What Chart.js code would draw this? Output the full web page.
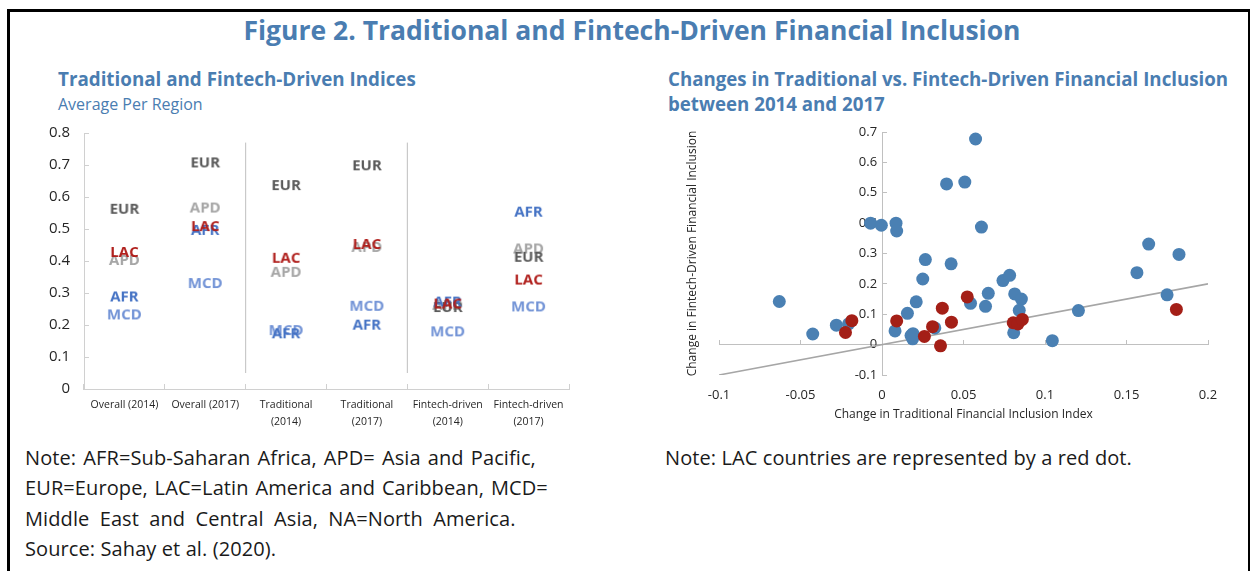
<!DOCTYPE html>
<html>
<head>
<meta charset="utf-8">
<script src="https://cdn.jsdelivr.net/npm/chart.js@4.4.0/dist/chart.umd.min.js"></script>
<style>
    body { margin: 0; background: #fff; font-family: 'Open Sans', sans-serif; }
    #page { position: relative; width: 1251px; height: 571px; overflow: hidden; background: #fff; }
    #frame { position: absolute; left: 7px; top: 9px; width: 1238px; height: 620px;
             border-left: 3px solid #000; border-top: 3px solid #000; border-right: 2px solid #000; }
    .blue { color: #4a7db1; }
    #mainTitle { position: absolute; left: 16px; width: 1232px; top: 13px; text-align: center;
                 font-size: 26.5px; line-height: 34px; font-weight: bold; }
    #leftTitle { position: absolute; left: 58px; top: 66px; font-size: 18.8px; line-height: 26px; font-weight: bold; }
    #leftSub { position: absolute; left: 58px; top: 92px; font-size: 16px; line-height: 24px; }
    #rightTitle { position: absolute; left: 668px; top: 66px; font-size: 18.7px; line-height: 25px; font-weight: bold; }
    .note { position: absolute; top: 443px; font-size: 20px; line-height: 30.3px; color: #1a1a1a; letter-spacing: 0.1px; }
    .note span { display: block; white-space: nowrap; }
    canvas { position: absolute; }
</style>
</head>
<body>
<div id="page">
    <div id="frame"></div>
    <div id="mainTitle" class="blue">Figure 2. Traditional and Fintech-Driven Financial Inclusion</div>
    <div id="leftTitle" class="blue">Traditional and Fintech-Driven Indices</div>
    <div id="leftSub" class="blue">Average Per Region</div>
    <div id="rightTitle" class="blue">Changes in Traditional vs. Fintech-Driven Financial Inclusion<br>between 2014 and 2017</div>
    <canvas id="indexChart" width="580" height="310" style="left:20px; top:120px;"></canvas>
    <canvas id="changeChart" width="580" height="310" style="left:660px; top:120px;"></canvas>
    <div class="note" style="left:25px;">
        <span style="word-spacing:1.8px;">Note: AFR=Sub-Saharan Africa, APD= Asia and Pacific,</span>
        <span style="word-spacing:1.5px;">EUR=Europe, LAC=Latin America and Caribbean, MCD=</span>
        <span style="word-spacing:5px;">Middle East and Central Asia, NA=North America.</span>
        <span>Source: Sahay et al. (2020).</span>
    </div>
    <div class="note" style="left:665px;">Note: LAC countries are represented by a red dot.</div>
</div>
<script>
// ------------------------------------------------------------------
// Data: left panel (average index per region)
// ------------------------------------------------------------------
const INDEX_CATEGORIES = [
    'Overall (2014)', 'Overall (2017)',
    ['Traditional', '(2014)'], ['Traditional', '(2017)'],
    ['Fintech-driven', '(2014)'], ['Fintech-driven', '(2017)'],
];
const EUR = [0.56, 0.705, 0.634, 0.696, 0.253, 0.41];
const APD = [0.40, 0.564, 0.363, 0.441, 0.26, 0.436];
const LAC = [0.425, 0.506, 0.407, 0.45, 0.264, 0.339];
const AFR = [0.286, 0.494, 0.171, 0.198, 0.27, 0.551];
const MCD = [0.23, 0.328, 0.181, 0.257, 0.177, 0.255];
const INDEX_Y_TICKS = [0, 0.1, 0.2, 0.3, 0.4, 0.5, 0.6, 0.7, 0.8];
const SEPARATOR_X = [2, 4];          // boundaries between the three groups
const SEPARATOR_Y = [0.05, 0.77];

// ------------------------------------------------------------------
// Data: right panel (change 2014 -> 2017, one dot per country)
// ------------------------------------------------------------------
const OTHER_X = [-0.063, -0.0425, -0.028, -0.0205, -0.007, -0.0004, 0.0086, 0.009, 0.008,
    0.0156, 0.021, 0.025, 0.0266, 0.0178, 0.019, 0.0188, 0.0324, 0.0396, 0.0424, 0.0508,
    0.0574, 0.061, 0.0543, 0.0635, 0.0652, 0.0742, 0.0783, 0.0814, 0.0855, 0.0842, 0.0808,
    0.1045, 0.1205, 0.1564, 0.1636, 0.1822, 0.1749];
const OTHER_Y = [0.142, 0.035, 0.064, 0.068, 0.40, 0.393, 0.40, 0.374, 0.045,
    0.103, 0.141, 0.216, 0.28, 0.03, 0.036, 0.019, 0.055, 0.529, 0.266, 0.535,
    0.677, 0.387, 0.136, 0.126, 0.169, 0.211, 0.228, 0.167, 0.15, 0.113, 0.039,
    0.013, 0.112, 0.237, 0.331, 0.297, 0.164];
const LAC_X = [-0.0224, -0.0185, 0.009, 0.026, 0.031, 0.0359, 0.037, 0.0426, 0.0523,
    0.0805, 0.0834, 0.0861, 0.1806];
const LAC_Y = [0.04, 0.079, 0.078, 0.027, 0.059, -0.004, 0.12, 0.074, 0.157,
    0.072, 0.068, 0.083, 0.116];
const FIT_X = [-0.1, 0.2];
const FIT_Y = [-0.1, 0.2];
const CHANGE_X_TICKS = [-0.1, -0.05, 0, 0.05, 0.1, 0.15, 0.2];
const CHANGE_Y_TICKS = [-0.1, 0, 0.1, 0.2, 0.3, 0.4, 0.5, 0.6, 0.7];

// first one is drawn on top
const REGIONS = [
    { name: 'LAC', values: LAC, color: '#b01f1c' },
    { name: 'AFR', values: AFR, color: '#4472c4' },
    { name: 'EUR', values: EUR, color: '#595959' },
    { name: 'MCD', values: MCD, color: '#7293d6' },
    { name: 'APD', values: APD, color: '#a6a6a6' },
];

Chart.defaults.font.family = "'Open Sans', sans-serif";
Chart.defaults.color = '#262626';

function format_tick(v) {
    return String(Number(v.toFixed(3)));
}

// small canvas with the region code, used as the point style
function text_marker(text, color) {
    const font = 'bold 15px "Open Sans"';
    const c = document.createElement('canvas');
    let ctx = c.getContext('2d');
    ctx.font = font;
    const w = Math.ceil(ctx.measureText(text).width) + 2;
    c.width = w;
    c.height = 20;
    ctx = c.getContext('2d');
    ctx.font = font;
    ctx.fillStyle = color;
    ctx.textAlign = 'center';
    ctx.textBaseline = 'middle';
    ctx.fillText(text, w / 2, 10);
    return c;
}

function create_index_chart() {
    const regionSets = REGIONS.map(r => ({
        label: r.name,
        data: r.values,
        showLine: false,
        pointStyle: text_marker(r.name, r.color),
        pointRadius: 3,
        xAxisID: 'x',
        yAxisID: 'y',
    }));
    const separatorSets = SEPARATOR_X.map(x => ({
        label: 'sep',
        data: SEPARATOR_Y.map(y => ({ x, y })),
        borderColor: '#bfbfbf',
        borderWidth: 1,
        pointRadius: 0,
        xAxisID: 'x2',
        yAxisID: 'y',
    }));

    new Chart(document.getElementById('indexChart'), {
        type: 'line',
        data: { labels: INDEX_CATEGORIES, datasets: [...regionSets, ...separatorSets] },
        options: {
            responsive: false,
            animation: false,
            layout: { padding: { left: 0, right: 31, top: 13, bottom: 0 } },
            scales: {
                x: {
                    type: 'category',
                    offset: true,
                    grid: { offset: true, drawOnChartArea: false, tickLength: -5, color: '#d0d0d0' },
                    border: { color: '#d0d0d0' },
                    ticks: { font: { size: 10.5, lineHeight: 1.6 }, color: '#262626', padding: 13, maxRotation: 0, autoSkip: false },
                    afterFit: s => { s.height = 41; },
                },
                x2: { type: 'linear', display: false, min: 0, max: 6 },
                y: {
                    min: 0,
                    max: 0.8,
                    afterBuildTicks: s => { s.ticks = INDEX_Y_TICKS.map(v => ({ value: v })); },
                    ticks: { font: { size: 15 }, color: '#262626', padding: 19, callback: format_tick },
                    grid: { drawOnChartArea: false, tickLength: -5, color: '#d0d0d0' },
                    border: { color: '#d0d0d0' },
                    afterFit: s => { s.width = 64; s.paddingTop = 9; s.paddingBottom = 9; },
                },
            },
            plugins: { legend: { display: false }, tooltip: { enabled: false } },
        },
    });
}

function create_change_chart() {
    const pts = (xs, ys) => xs.map((x, i) => ({ x, y: ys[i] }));

    new Chart(document.getElementById('changeChart'), {
        type: 'scatter',
        data: {
            datasets: [
                { label: 'LAC', data: pts(LAC_X, LAC_Y), backgroundColor: '#a41f17', borderWidth: 0, pointRadius: 6.5, order: 0, xAxisID: 'x', yAxisID: 'y' },
                { label: 'Other', data: pts(OTHER_X, OTHER_Y), backgroundColor: '#4a80b3', borderWidth: 0, pointRadius: 6.5, order: 1, xAxisID: 'x', yAxisID: 'y' },
                { type: 'line', label: 'fit', data: pts(FIT_X, FIT_Y), borderColor: '#a6a6a6', borderWidth: 1.6, pointRadius: 0, order: 2, xAxisID: 'x', yAxisID: 'y' },
            ],
        },
        options: {
            responsive: false,
            animation: false,
            layout: { padding: { left: 0, right: 32, top: 12, bottom: 0 } },
            scales: {
                x: {
                    type: 'linear', position: 'bottom', min: -0.1, max: 0.2,
                    afterBuildTicks: s => { s.ticks = CHANGE_X_TICKS.map(v => ({ value: v })); },
                    ticks: { font: { size: 13 }, color: '#262626', padding: 4, callback: format_tick },
                    grid: { display: false },
                    border: { display: false },
                    title: { display: true, text: 'Change in Traditional Financial Inclusion Index', font: { size: 12 }, color: '#262626', padding: { top: 0, bottom: 8 } },
                    afterFit: s => { s.height = 55; },
                },
                xZero: {
                    type: 'linear', axis: 'x', position: { y: 0 }, min: -0.1, max: 0.2,
                    afterBuildTicks: s => { s.ticks = CHANGE_X_TICKS.map(v => ({ value: v })); },
                    ticks: { display: false },
                    grid: { drawOnChartArea: false, tickLength: -5, color: '#c0c0c0' },
                    border: { color: '#c0c0c0' },
                },
                y: {
                    type: 'linear', axis: 'y', position: { x: -0.003 }, min: -0.1, max: 0.7,
                    afterBuildTicks: s => { s.ticks = CHANGE_Y_TICKS.map(v => ({ value: v })); },
                    ticks: { font: { size: 13 }, color: '#262626', callback: format_tick },
                    grid: { display: false },
                    border: { display: false },
                },
                yZero: {
                    type: 'linear', axis: 'y', position: { x: 0 }, min: -0.1, max: 0.7,
                    afterBuildTicks: s => { s.ticks = CHANGE_Y_TICKS.map(v => ({ value: v })); },
                    ticks: { display: false },
                    grid: { drawOnChartArea: false, tickLength: -5, color: '#c0c0c0' },
                    border: { color: '#c0c0c0' },
                },
                yTitle: {
                    type: 'linear', axis: 'y', position: 'left', min: -0.1, max: 0.7,
                    ticks: { display: false },
                    grid: { display: false },
                    border: { display: false },
                    title: { display: true, text: 'Change in Fintech-Driven Financial Inclusion', font: { size: 12 }, color: '#262626', padding: { top: 25, bottom: 0 } },
                    afterFit: s => { s.width = 59; },
                },
            },
            plugins: { legend: { display: false }, tooltip: { enabled: false } },
        },
    });
}

create_index_chart();
create_change_chart();
</script>
</body>
</html>
